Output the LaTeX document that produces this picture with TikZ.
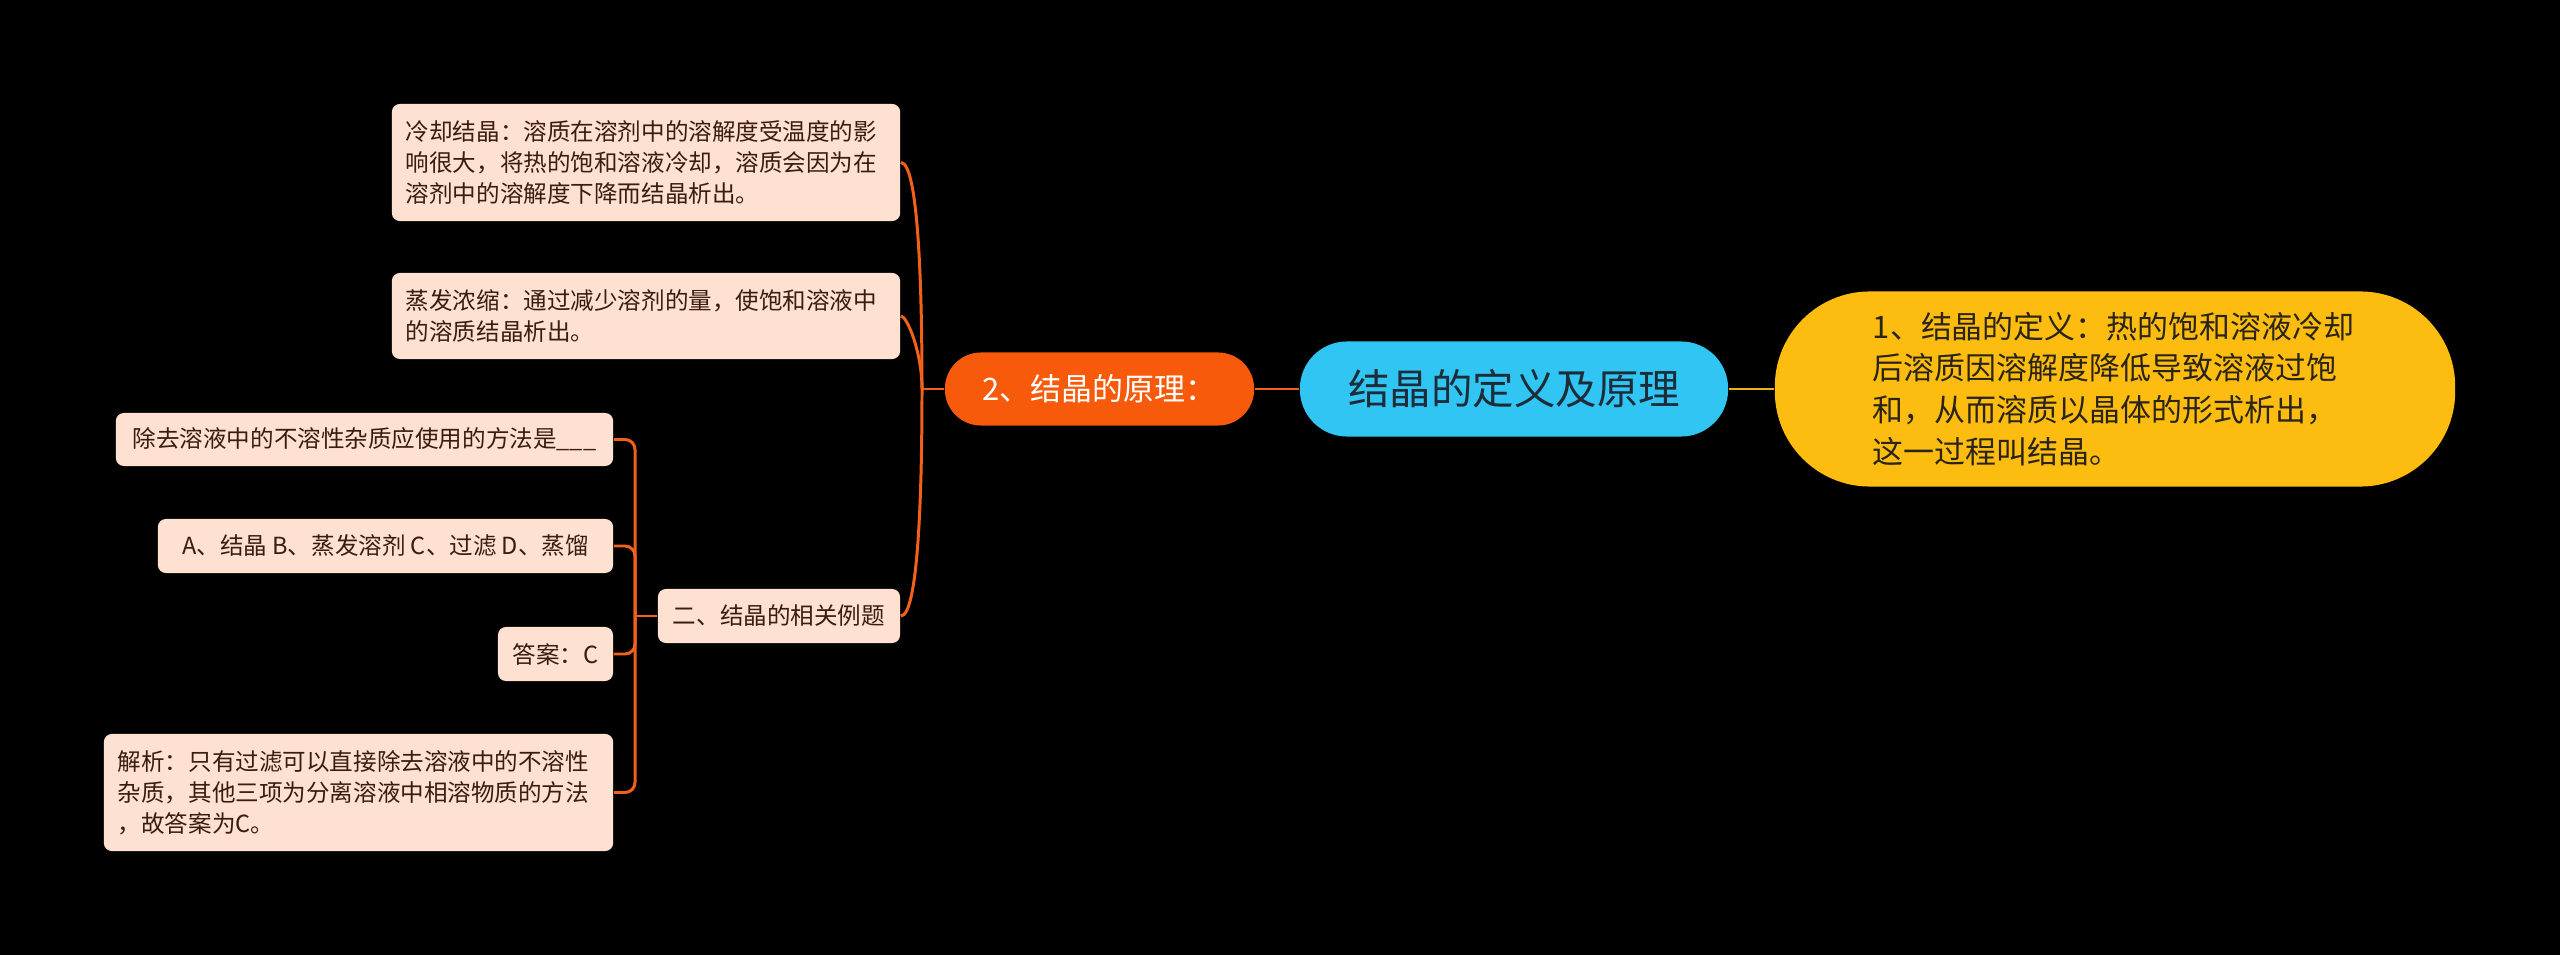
\documentclass[tikz,border=0pt]{standalone}
\usepackage{fontspec}
\setmainfont{Noto Sans CJK SC}
\definecolor{peach}{HTML}{FFE1D2}
\definecolor{peachtext}{HTML}{3A1C10}
\definecolor{flame}{HTML}{F85A0C}
\definecolor{flameline}{HTML}{F2611A}
\definecolor{sky}{HTML}{31C5F3}
\definecolor{skytext}{HTML}{1C2C38}
\definecolor{amber}{HTML}{FDBD10}
\definecolor{amberline}{HTML}{E9B317}
\definecolor{ambertext}{HTML}{2A2418}

\begin{document}
\begin{tikzpicture}[
      x=0.01cm, y=-0.01cm,
      % --- GLOBAL STYLES ---
      mm-root/.style={rectangle, fill=sky, text=skytext, rounded corners=0.47cm,
        minimum width=4.28cm, minimum height=0.95cm, inner sep=0pt,
        font=\fontsize{11.8pt}{14pt}\selectfont},
      mm-branch/.style={rectangle, fill=flame, text=white, rounded corners=0.36cm,
        minimum width=3.09cm, minimum height=0.73cm, inner sep=0pt,
        font=\fontsize{8.8pt}{11pt}\selectfont},
      mm-def/.style={rectangle, fill=amber, text=ambertext, rounded corners=0.95cm,
        minimum width=6.80cm, minimum height=1.95cm, inner sep=0pt,
        text width=4.84cm, align=left, font=\fontsize{8.8pt}{11.9pt}\selectfont},
      mm-leaf/.style={rectangle, fill=peach, text=peachtext, rounded corners=0.08cm,
        inner xsep=0.14cm, inner ysep=0pt, align=left,
        font=\fontsize{6.7pt}{8.8pt}\selectfont},
      %
      link/.style={draw=flameline, line width=0.85pt},
      deflink/.style={draw=amberline, line width=0.85pt}
  ]
    %
    % 0. Canvas
    \fill[black] (0,0) rectangle (2560,955);
    \useasboundingbox (0,0) rectangle (2560,955);
    %
    % 1. Centre and first level
    \node[mm-root] (root) at (1514,389) {结晶的定义及原理};
    \node[mm-def] (defn) at (2115,389) {1、结晶的定义：热的饱和溶液冷却\\后溶质因溶解度降低导致溶液过饱\\和，从而溶质以晶体的形式析出，\\这一过程叫结晶。};
    \node[mm-branch] (princ) at (1099.5,389) {2、结晶的原理：};
    %
    % 2. Principle leaves
    \node[mm-leaf, text width=4.80cm, minimum height=1.17cm] (cool) at (646,162.5) {冷却结晶：溶质在溶剂中的溶解度受温度的影\\响很大，将热的饱和溶液冷却，溶质会因为在\\溶剂中的溶解度下降而结晶析出。};
    \node[mm-leaf, text width=4.80cm, minimum height=0.86cm] (evap) at (646,316) {蒸发浓缩：通过减少溶剂的量，使饱和溶液中\\的溶质结晶析出。};
    \node[mm-leaf, minimum width=2.42cm, minimum height=0.54cm, align=center] (exam) at (779,616) {二、结晶的相关例题};
    %
    % 3. Example leaves
    \node[mm-leaf, minimum width=4.97cm, minimum height=0.53cm, align=center] (quest) at (364.5,439.5) {除去溶液中的不溶性杂质应使用的方法是\_\_\_};
    \node[mm-leaf, minimum width=4.55cm, minimum height=0.54cm, align=center] (opts) at (385.5,546) {A、结晶 B、蒸发溶剂 C、过滤 D、蒸馏};
    \node[mm-leaf, minimum width=1.15cm, minimum height=0.54cm, align=center] (answ) at (555.5,654) {答案：C};
    \node[mm-leaf, text width=4.81cm, minimum height=1.17cm] (expl) at (358.5,792.5) {解析：只有过滤可以直接除去溶液中的不溶性\\杂质，其他三项为分离溶液中相溶物质的方法\\，故答案为C。};
    %
    % 4. Forks
    \coordinate (fkup) at (922,389);
    \coordinate (fklow) at (635,616);
    %
    % 5. Links from centre
    \draw[deflink] (root.east) -- (defn.west);
    \draw[link] (root.west) -- (princ.east);
    \draw[link] (princ.west) -- (fkup);
    %
    % 6. Links of principle branch
    \draw[link] (cool.east) .. controls (918,162.5) and (922,282) .. (fkup);
    \draw[link] (evap.east) .. controls (907,316) and (922,352) .. (fkup);
    \draw[link] (exam.east) .. controls (918,616) and (922,497) .. (fkup);
    %
    % 7. Links of example branch
    \draw[link] (exam.west) -- (fklow);
    \draw[link, rounded corners=0.1cm] (quest.east) -| (fklow);
    \draw[link, rounded corners=0.1cm] (opts.east) -| (fklow);
    \draw[link, rounded corners=0.1cm] (answ.east) -| (fklow);
    \draw[link, rounded corners=0.1cm] (expl.east) -| (fklow);
  \end{tikzpicture}
\end{document}
